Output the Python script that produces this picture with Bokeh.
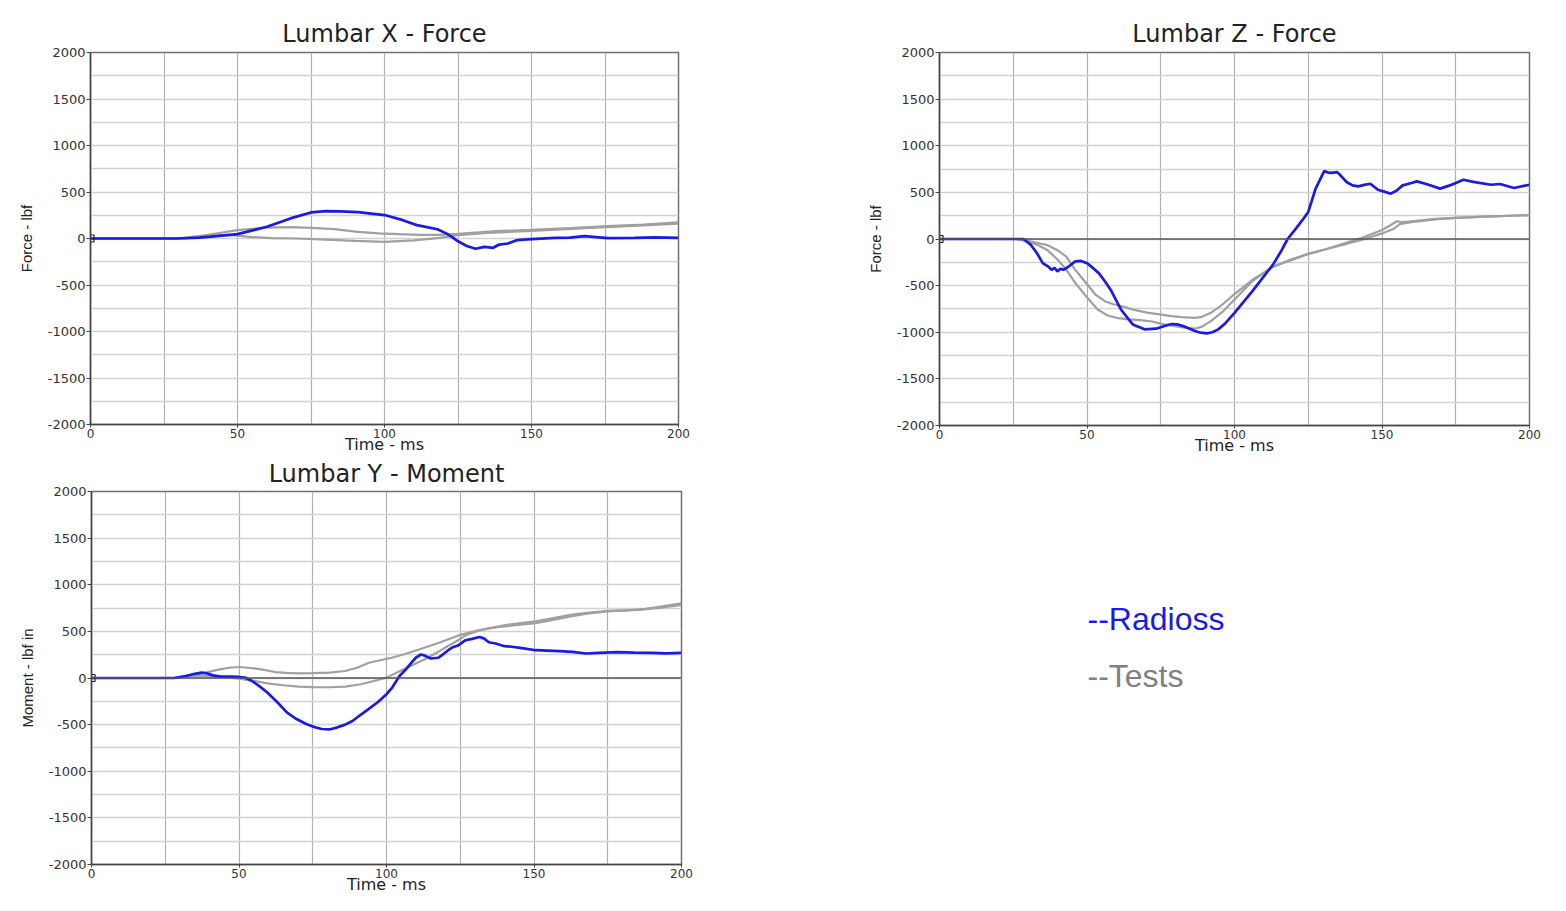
from bokeh.plotting import figure
from bokeh.layouts import column, row, Spacer
from bokeh.models import Range1d, FixedTicker, Span
from bokeh.embed import file_html
from bokeh.resources import INLINE
from bokeh.core.properties import value

# ---------------- data ----------------
x_ticks = [0, 50, 100, 150, 200]
x_tick_labels = ["0", "50", "100", "150", "200"]
x_minor = [25, 75, 125, 175]
y_ticks = [-2000, -1500, -1000, -500, 0, 500, 1000, 1500, 2000]
y_tick_labels = ["-2000", "-1500", "-1000", "-500", "0", "500", "1000", "1500", "2000"]
y_minor = [-1750, -1250, -750, -250, 250, 750, 1250, 1750]

titles = ["Lumbar X - Force", "Lumbar Z - Force", "Lumbar Y - Moment"]
y_labels = ["Force - lbf", "Force - lbf", "Moment - lbf in"]
x_label = "Time - ms"
legend_labels = ["--Radioss", "--Tests"]

# Lumbar X - Force
lx_radioss_t = [0, 29, 37, 41, 50, 60, 68, 75, 80, 85, 91, 100, 106, 111, 114, 118, 121,
                123, 125, 128, 131, 134, 137, 139, 142, 145, 150, 158, 163, 168, 172, 176,
                185, 192, 200]
lx_radioss_v = [0, 0, 10, 20, 47, 126, 216, 280, 295, 292, 284, 252, 200, 144, 125, 100, 55,
                15, -30, -80, -110, -90, -100, -65, -54, -18, -7, 7, 10, 25, 15, 4,
                7, 12, 7]
lx_test1_t = [0, 30, 40, 50, 60, 68, 75, 83, 91, 98, 105, 112, 118, 125, 132, 138, 150, 163,
              176, 188, 200]
lx_test1_v = [0, 0, 40, 90, 118, 122, 115, 100, 72, 55, 47, 40, 38, 50, 65, 79, 92, 112,
              133, 150, 173]
lx_test2_t = [0, 32, 40, 46, 50, 55, 62, 70, 80, 90, 100, 110, 118, 125, 135, 150, 162, 175,
              188, 200]
lx_test2_v = [0, 0, 25, 40, 30, 15, 5, 0, -12, -25, -36, -20, 5, 35, 60, 82, 100, 122,
              142, 160]

# Lumbar Z - Force
lz_radioss_t = [0, 28.5, 31, 33, 35, 37, 38, 39, 40, 41, 42, 44, 46, 48, 50, 52, 54, 56, 58,
                61.5, 65.5, 69.5, 73.4, 76, 78.7, 80.5, 82.6, 86.6, 88.5, 90.6, 92.5, 94.5,
                97, 100, 106, 113, 116, 118, 121, 123, 125, 127.5, 130.4, 131.5, 132.8,
                134.8, 136, 138, 140, 142, 144, 146, 148.6, 151, 153, 155, 157, 160, 161.8,
                165, 169.7, 173, 177.6, 181, 186.9, 190, 194.8, 200]
lz_radioss_v = [0, 0, -64, -150, -259, -300, -330, -310, -348, -320, -330, -290, -240, -235,
                -259, -310, -366, -450, -543, -756, -916, -969, -962, -935, -912, -915, -934,
                -987, -1005, -1012, -1000, -969, -900, -792, -561, -277, -120, 0, 120, 202,
                290, 540, 728, 715, 710, 717, 680, 611, 575, 564, 580, 593, 529, 505, 486,
                520, 575, 600, 618, 590, 540, 575, 635, 612, 582, 590, 547, 582]
lz_test1_t = [0, 26, 30, 33, 36.5, 40, 43, 46, 49.7, 53.6, 57, 60, 64, 68, 72, 76, 80, 83,
              86.6, 89, 92, 96, 100, 106, 113, 119, 125, 131, 137, 143, 150, 153, 155, 157,
              160, 168, 175, 185, 200]
lz_test1_v = [0, 0, -30, -60, -117, -220, -330, -470, -614, -756, -820, -845, -862, -870,
              -885, -916, -935, -950, -962, -940, -880, -780, -650, -454, -295, -230, -160,
              -110, -50, 10, 96, 150, 190, 180, 190, 215, 227, 240, 256]
lz_test2_t = [0, 27, 30, 33, 36.5, 40, 43, 46, 49.7, 53, 56, 59, 62.8, 66, 70.8, 74, 78.7,
              82, 86.6, 89, 92, 96, 100, 106, 113, 119, 125, 131, 137, 143, 150, 154, 156,
              160, 168, 175, 185, 200]
lz_test2_v = [0, 0, -20, -40, -64, -120, -188, -330, -472, -600, -667, -700, -731, -760,
              -792, -805, -827, -838, -845, -835, -792, -700, -590, -440, -300, -220, -160,
              -110, -60, -10, 60, 110, 160, 180, 210, 227, 240, 256]

# Lumbar Y - Moment
ly_radioss_t = [0, 28, 32, 35, 37.3, 39, 41.2, 43.8, 47, 50, 52, 54.4, 57, 59.6, 63, 66.2,
                69.5, 72.8, 75.5, 78, 81, 83.4, 86, 88.6, 91, 93.9, 97, 100, 102, 104.4,
                106.5, 108.4, 110, 111.7, 113, 115, 117.6, 119, 120.9, 122.5, 124.2, 126.8,
                129, 131.5, 133, 134.7, 137, 140, 142.5, 145.3, 150.6, 158.5, 163, 167.7,
                172, 178, 184, 190, 195, 200]
ly_radioss_v = [0, 0, 21, 45, 57, 50, 28, 14, 14, 11, 5, -32, -90, -156, -260, -369, -440,
                -493, -525, -547, -550, -529, -500, -458, -400, -334, -260, -174, -100, 21,
                90, 163, 220, 252, 240, 209, 217, 250, 298, 330, 348, 405, 420, 440, 425,
                383, 370, 341, 335, 323, 298, 288, 280, 263, 270, 277, 272, 270, 265, 270]
ly_test1_t = [0, 28, 32, 38.6, 43, 46.5, 50, 53, 57, 62.3, 66, 70.2, 75, 80.7, 86, 90, 94,
              101.8, 106, 111, 117.6, 124.2, 130.8, 136, 141.3, 150.6, 156, 162.4, 168, 175,
              181, 187.4, 194, 200]
ly_test1_v = [0, 0, 21, 57, 90, 110, 118, 110, 95, 64, 55, 50, 52, 57, 75, 110, 163, 217,
              255, 305, 376, 454, 508, 540, 572, 607, 640, 678, 700, 721, 725, 738, 770, 802]
ly_test2_t = [0, 28, 32, 36, 40, 45, 50, 55, 59.6, 65, 70.2, 75, 80.7, 86, 91.3, 96, 100,
              106.2, 112.8, 117, 120.7, 124, 127.3, 131, 135, 142, 150.6, 156, 162.4, 168,
              175, 185, 193, 200]
ly_test2_v = [0, 0, 14, 25, 21, 10, -7, -30, -57, -78, -92, -97, -99, -92, -67, -30, 4, 99,
              199, 270, 341, 400, 465, 505, 536, 560, 589, 620, 660, 690, 714, 730, 755, 785]

# ---------------- styling ----------------
BLUE = "#1a1ae6"
GREY = "#a0a0a0"
FONT = "DejaVu Sans"
VFONT = "Liberation Sans"


def make_panel(title, ylabel, radioss, tests, zero_line, fw, fh, bl, br, bt, bb,
               title_standoff):
    p = figure(frame_width=fw, frame_height=fh,
               min_border_left=bl, min_border_right=br,
               min_border_top=bt, min_border_bottom=bb,
               x_range=Range1d(0, 200), y_range=Range1d(-2000, 2000),
               output_backend="svg", toolbar_location=None, title=title)
    p.background_fill_color = "white"
    p.border_fill_color = "white"
    p.outline_line_color = "#707070"
    p.outline_line_width = 1.5

    p.title.align = "center"
    p.title.vertical_align = "top"
    p.title.text_font = FONT
    p.title.text_font_size = "24px"
    p.title.text_font_style = "normal"
    p.title.text_color = "#222222"
    p.title.standoff = title_standoff

    p.xaxis.ticker = FixedTicker(ticks=x_ticks, minor_ticks=x_minor)
    p.yaxis.ticker = FixedTicker(ticks=y_ticks, minor_ticks=y_minor)
    p.xaxis.major_label_overrides = dict(zip(x_ticks, x_tick_labels))
    p.yaxis.major_label_overrides = dict(zip(y_ticks, y_tick_labels))
    for ax in (p.xaxis[0], p.yaxis[0]):
        ax.axis_line_color = "#444444"
        ax.axis_line_width = 1.5
        ax.major_tick_line_color = "#444444"
        ax.major_tick_in = 0
        ax.minor_tick_out = 0
        ax.minor_tick_in = 0
        ax.major_label_text_font = FONT
        ax.major_label_text_color = "#333333"
        ax.axis_label_text_font_style = "normal"
        ax.axis_label_text_color = "#222222"
    p.xaxis.major_label_text_font_size = "12px"
    p.xaxis.major_tick_out = 3
    p.xaxis.major_label_standoff = 1
    p.xaxis.axis_label = x_label
    p.xaxis.axis_label_text_font = FONT
    p.xaxis.axis_label_text_font_size = "16px"
    p.xaxis.axis_label_standoff = -6
    p.yaxis.major_label_text_font_size = "13px"
    p.yaxis.major_tick_out = 4
    p.yaxis.major_label_standoff = 1
    p.yaxis.axis_label = ylabel
    p.yaxis.axis_label_text_font = VFONT
    p.yaxis.axis_label_text_font_size = "15px"
    p.yaxis.axis_label_standoff = 10

    p.xgrid.grid_line_color = "#b0b0b0"
    p.xgrid.minor_grid_line_color = "#b0b0b0"
    p.xgrid.grid_line_width = 1.2
    p.xgrid.minor_grid_line_width = 1.2
    p.ygrid.grid_line_color = "#d2d2d2"
    p.ygrid.minor_grid_line_color = "#d2d2d2"
    p.ygrid.grid_line_width = 1.3
    p.ygrid.minor_grid_line_width = 1.3

    if zero_line:
        p.add_layout(Span(location=0, dimension="width", line_color="#555555",
                          line_width=1.3))

    for t, v in tests:
        p.line(t, v, line_color=GREY, line_width=2.2)
    rt, rv = radioss
    p.line(rt, rv, line_color=BLUE, line_width=2.7)
    p.scatter([rt[0]], [rv[0]], marker="square", size=7, fill_color=None,
              line_color="#222222", line_width=1.2)
    return p


p1 = make_panel(titles[0], y_labels[0], (lx_radioss_t, lx_radioss_v),
                [(lx_test1_t, lx_test1_v), (lx_test2_t, lx_test2_v)], False,
                588, 372, 90, 22, 52, 31, 5)
p2 = make_panel(titles[1], y_labels[1], (lz_radioss_t, lz_radioss_v),
                [(lz_test1_t, lz_test1_v), (lz_test2_t, lz_test2_v)], True,
                590, 373, 89, 30, 52, 30, 5)
p3 = make_panel(titles[2], y_labels[2], (ly_radioss_t, ly_radioss_v),
                [(ly_test1_t, ly_test1_v), (ly_test2_t, ly_test2_v)], True,
                590, 373, 91, 20, 34, 31, 3)

# legend text panel (frame matches the Lumbar Y panel's frame height)
LW, LFH = 700, 373
leg = figure(frame_width=LW, frame_height=LFH, x_range=Range1d(0, LW),
             y_range=Range1d(0, LFH),
             x_axis_location=None, y_axis_location=None, title_location=None,
             min_border_left=0, min_border_right=0, min_border_top=34,
             min_border_bottom=31, output_backend="svg", toolbar_location=None)
leg.outline_line_color = None
leg.grid.visible = False
leg.background_fill_color = "white"
leg.border_fill_color = "white"
leg.text(x=[386, 386], y=[246, 189], text=legend_labels,
         text_color=[BLUE, "#808080"], text_font=value(VFONT),
         text_font_size="32px", text_baseline="alphabetic", text_align="left")

layout = column(row(p1, Spacer(width=150), p2), row(p3, leg))

open("out.html", "w").write(file_html(layout, INLINE))
